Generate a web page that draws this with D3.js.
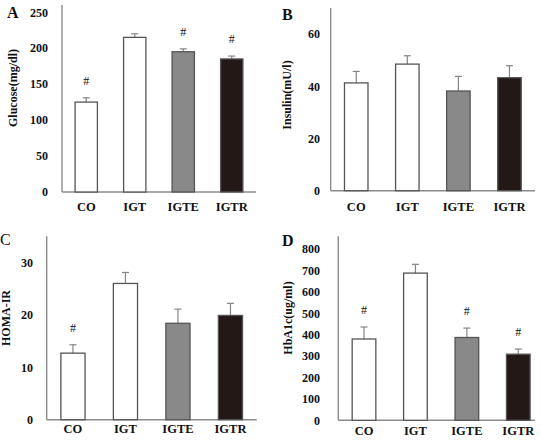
<!DOCTYPE html>
<meta charset="utf-8">
<style type="text/css">
  body { margin: 0; background: #fff; }
  text { font-family: "Liberation Serif", "Times New Roman", serif; font-weight: bold; fill: #111; }
</style>
<body>
<div class="chart"></div>
</body>
<script src="https://d3js.org/d3.v7.min.js"></script>
<script>

// data
var groups = ["CO", "IGT", "IGTE", "IGTR"];
var barFills = ["#ffffff", "#ffffff", "#898989", "#231816"];

var glucoseMean = [125, 215, 195, 185];
var glucoseErr  = [6, 5, 4, 4];
var glucoseSig  = [true, false, true, true];
var glucoseTicks = [0, 50, 100, 150, 200, 250];

var insulinMean = [41.3, 48.5, 38.2, 43.3];
var insulinErr  = [4.4, 3.2, 5.6, 4.6];
var insulinSig  = [false, false, false, false];
var insulinTicks = [0, 20, 40, 60];

var homaMean = [12.7, 26.0, 18.4, 19.9];
var homaErr  = [1.6, 2.1, 2.7, 2.3];
var homaSig  = [true, false, false, false];
var homaTicks = [0, 10, 20, 30];

var hba1cMean = [380, 688, 387, 309];
var hba1cErr  = [56, 41, 44, 24];
var hba1cSig  = [true, false, true, true];
var hba1cTicks = [0, 100, 200, 300, 400, 500, 600, 700, 800];

var width = 541, height = 446;

var svg = d3.select(".chart").append("svg")
    .attr("width", width)
    .attr("height", height);

// panel layouts (pixels)
var panels = [
  {letter: "A", lx: 7, ly: 18, title: "Glucose(mg/dl)", tx: 17, ty: 88,
   mean: glucoseMean, err: glucoseErr, sig: glucoseSig, ticks: glucoseTicks, max: 260,
   x0: 62, x1: 256, band: [62, 256], top: 5, base: 192, tickRight: 48, labelY: 211},
  {letter: "B", lx: 282, ly: 20, title: "Insulin(mU/l)", tx: 291, ty: 95,
   mean: insulinMean, err: insulinErr, sig: insulinSig, ticks: insulinTicks, max: 70,
   x0: 330.7, x1: 535, band: [330.7, 535], top: 8, base: 190.7, tickRight: 320, labelY: 211},
  {letter: "C", lx: 0, ly: 245, title: "HOMA-IR", tx: 10, ty: 318,
   mean: homaMean, err: homaErr, sig: homaSig, ticks: homaTicks, max: 35,
   x0: 46.7, x1: 256.7, band: [46.7, 256.7], top: 236.3, base: 419.7, tickRight: 33, labelY: 433},
  {letter: "D", lx: 282, ly: 246, title: "HbA1c(ug/ml)", tx: 292, ty: 318,
   mean: hba1cMean, err: hba1cErr, sig: hba1cSig, ticks: hba1cTicks, max: 860,
   x0: 338.3, x1: 535, band: [338.3, 544], top: 236.3, base: 420.3, tickRight: 320, labelY: 435}
];

panels.forEach(drawPanel);

function drawPanel(p) {
  var g = svg.append("g");

  var x = d3.scaleBand()
      .domain(groups)
      .range(p.band)
      .paddingInner(0.54)
      .paddingOuter(0.27);

  var y = d3.scaleLinear()
      .domain([0, p.max])
      .range([p.base, p.top]);

  var rows = groups.map(function(k, i) {
    return {name: k, mean: p.mean[i], err: p.err[i], sig: p.sig[i], fill: barFills[i]};
  });

  // axes lines
  g.append("line")
      .attr("x1", p.x0).attr("x2", p.x0)
      .attr("y1", y(p.max)).attr("y2", y(0))
      .attr("stroke", "#8c8c8c").attr("stroke-width", 1.4);
  g.append("line")
      .attr("x1", p.x0).attr("x2", p.x1)
      .attr("y1", y(0)).attr("y2", y(0))
      .attr("stroke", "#8c8c8c").attr("stroke-width", 1.4);

  // tick labels
  g.selectAll(".ytick")
    .data(p.ticks)
    .enter().append("text")
      .attr("x", p.tickRight)
      .attr("y", function(d) { return y(d); })
      .attr("dy", "0.36em")
      .attr("text-anchor", "end")
      .style("font-size", "12px")
      .text(function(d) { return d; });

  g.selectAll(".xlabel")
    .data(groups)
    .enter().append("text")
      .attr("x", function(d) { return x(d) + x.bandwidth() / 2; })
      .attr("y", p.labelY)
      .attr("text-anchor", "middle")
      .style("font-size", "12.5px")
      .text(function(d) { return d; });

  // error bars (upper only)
  var eb = g.selectAll(".err")
    .data(rows)
    .enter().append("g");
  eb.append("line")
      .attr("x1", function(d) { return x(d.name) + x.bandwidth() / 2; })
      .attr("x2", function(d) { return x(d.name) + x.bandwidth() / 2; })
      .attr("y1", function(d) { return y(d.mean); })
      .attr("y2", function(d) { return y(d.mean + d.err); })
      .attr("stroke", "#858585").attr("stroke-width", 1.2);
  eb.append("line")
      .attr("x1", function(d) { return x(d.name) + x.bandwidth() / 2 - 3.5; })
      .attr("x2", function(d) { return x(d.name) + x.bandwidth() / 2 + 3.5; })
      .attr("y1", function(d) { return y(d.mean + d.err); })
      .attr("y2", function(d) { return y(d.mean + d.err); })
      .attr("stroke", "#858585").attr("stroke-width", 1.2);

  // bars
  g.selectAll(".bar")
    .data(rows)
    .enter().append("rect")
      .attr("x", function(d) { return x(d.name); })
      .attr("y", function(d) { return y(d.mean); })
      .attr("width", x.bandwidth())
      .attr("height", function(d) { return y(0) - y(d.mean); })
      .attr("fill", function(d) { return d.fill; })
      .attr("stroke", "#555")
      .attr("stroke-width", 1.3);

  // significance marks
  g.selectAll(".sig")
    .data(rows.filter(function(d) { return d.sig; }))
    .enter().append("text")
      .attr("x", function(d) { return x(d.name) + x.bandwidth() / 2; })
      .attr("y", function(d) { return y(d.mean + d.err) - 13; })
      .attr("text-anchor", "middle")
      .style("font-size", "12px")
      .style("font-weight", "normal")
      .text("#");

  // axis title
  g.append("text")
      .attr("transform", "translate(" + p.tx + "," + p.ty + ") rotate(-90)")
      .attr("text-anchor", "middle")
      .style("font-size", "12px")
      .text(p.title);

  // panel letter
  g.append("text")
      .attr("x", p.lx)
      .attr("y", p.ly)
      .style("font-size", "16px")
      .style("font-weight", p.letter == "C" ? "normal" : "bold")
      .text(p.letter);
}

</script>
